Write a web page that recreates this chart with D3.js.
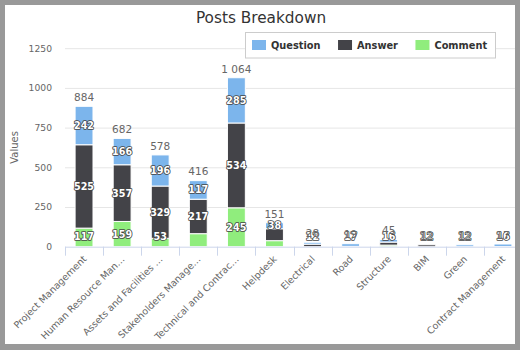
<!DOCTYPE html>
<html>
<head>
<meta charset="utf-8">
<script src="https://cdn.jsdelivr.net/npm/d3@7/dist/d3.min.js"></script>
<style>
  body { margin: 0; background: #fff; }
  svg { display: block; }
  text { font-family: "DejaVu Sans", sans-serif; }
</style>
</head>
<body>
<svg id="chart" width="520" height="350"></svg>
<script>
// Post counts per discussion group, split by post type
const categories = [
  "Project Management", "Human Resource Man\u2026", "Assets and Facilities \u2026",
  "Stakeholders Manage\u2026", "Technical and Contrac\u2026", "Helpdesk", "Electrical",
  "Road", "Structure", "BIM", "Green", "Contract Management"
];
const seriesNames = ["Question", "Answer", "Comment"];
const questionValues = [242, 166, 196, 117, 285, 38, 12, 17, 16, 0, 12, 16];
const answerValues   = [525, 357, 329, 217, 534, 75, 16, 0, 19, 12, 0, 0];
const commentValues  = [117, 159, 53, 82, 245, 38, 0, 2, 10, 0, 0, 1];
const yTicks = [0, 250, 500, 750, 1000, 1250];
// segment labels left out of the drawing: [category index, series name]
const suppressedLabels = [[3, "Comment"]];

const colors = { Question: "#7cb5ec", Answer: "#434348", Comment: "#90ed7d" };

const plot = { left: 65, right: 522, top: 48.2, bottom: 246.7 };
const svg = d3.select("#chart");

const rows = categories.map((c, i) => ({
  category: c,
  Question: questionValues[i],
  Answer: answerValues[i],
  Comment: commentValues[i]
}));

const x = d3.scaleBand().domain(categories).range([plot.left, plot.right]);
const y = d3.scaleLinear().domain([0, 1250]).range([plot.bottom, plot.top]);
const barWidth = x.bandwidth() * 0.47;

const fmt = d3.formatLocale({ decimal: ".", thousands: " ", grouping: [3], currency: ["", ""] }).format(",d");

// white background
svg.append("rect").attr("width", 520).attr("height", 350).attr("fill", "#fff");

// title
svg.append("text")
  .attr("x", 261).attr("y", 23)
  .attr("text-anchor", "middle")
  .attr("font-size", 15.3).attr("fill", "#333")
  .text("Posts Breakdown");

// horizontal grid lines
const grid = svg.append("g")
  .attr("transform", `translate(${plot.left},0)`)
  .call(d3.axisLeft(y).tickValues(yTicks.filter(t => t > 0)).tickSize(-(plot.right - plot.left)).tickFormat(""));
grid.select(".domain").remove();
grid.selectAll(".tick line").attr("stroke", "#e6e6e6");

// y axis labels
const yAxis = svg.append("g")
  .attr("transform", `translate(${plot.left},0)`)
  .call(d3.axisLeft(y).tickValues(yTicks).tickSize(0).tickPadding(13).tickFormat(d3.format("d")));
yAxis.select(".domain").remove();
yAxis.selectAll(".tick text")
  .attr("font-size", 9.2).attr("fill", "#666")
  .attr("font-family", "DejaVu Sans, sans-serif");

// y axis title
svg.append("text")
  .attr("transform", `translate(18,${(plot.top + plot.bottom) / 2}) rotate(-90)`)
  .attr("text-anchor", "middle")
  .attr("font-size", 10).attr("fill", "#666")
  .text("Values");

// stacked columns
const stack = d3.stack().keys(["Comment", "Answer", "Question"]);
const layers = stack(rows);

const barsG = svg.append("g");
layers.forEach(layer => {
  barsG.selectAll(null)
    .data(layer.filter(d => d[1] - d[0] > 0))
    .join("rect")
    .attr("x", d => x(d.data.category) + (x.bandwidth() - barWidth) / 2)
    .attr("y", d => y(d[1]))
    .attr("width", barWidth)
    .attr("height", d => y(d[0]) - y(d[1]))
    .attr("fill", colors[layer.key])
    .attr("stroke", "#fff")
    .attr("stroke-width", 1);
});

// x axis line, ticks between categories and rotated labels
svg.append("line")
  .attr("x1", plot.left).attr("x2", plot.right)
  .attr("y1", plot.bottom + 0.5).attr("y2", plot.bottom + 0.5)
  .attr("stroke", "#ccd6eb");
const boundaries = categories.map(c => x(c)).concat([plot.right]);
svg.append("g").selectAll("line")
  .data(boundaries)
  .join("line")
  .attr("x1", d => Math.round(d) + 0.5).attr("x2", d => Math.round(d) + 0.5)
  .attr("y1", plot.bottom).attr("y2", plot.bottom + 9)
  .attr("stroke", "#ccd6eb");

const xAxis = svg.append("g")
  .attr("transform", `translate(0,${plot.bottom})`)
  .call(d3.axisBottom(x).tickSize(0).tickPadding(0));
xAxis.select(".domain").remove();
xAxis.selectAll(".tick text")
  .attr("font-size", 9.5).attr("fill", "#666")
  .attr("font-family", "DejaVu Sans, sans-serif")
  .attr("text-anchor", "end")
  .attr("dy", 0)
  .attr("y", 0)
  .attr("transform", "translate(3,13) rotate(-45)");

// segment value labels
const labelG = svg.append("g");
const shownByCategory = categories.map(() => []);
["Question", "Answer", "Comment"].forEach(key => {
  const layer = layers.find(l => l.key === key);
  layer.forEach((d, i) => {
    const v = d[1] - d[0];
    if (v <= 0) return;
    if (suppressedLabels.some(s => s[0] === i && s[1] === key)) return;
    const cy = Math.min((y(d[0]) + y(d[1])) / 2, plot.bottom - 10);
    if (shownByCategory[i].some(o => Math.abs(o - cy) < 16)) return;
    shownByCategory[i].push(cy);
    labelG.append("text")
      .attr("x", x(d.data.category) + x.bandwidth() / 2)
      .attr("y", cy)
      .attr("dy", "0.36em")
      .attr("text-anchor", "middle")
      .attr("font-size", 9.6).attr("font-weight", "bold")
      .attr("fill", "#fff")
      .attr("stroke", "#444").attr("stroke-width", 1.6)
      .attr("stroke-linejoin", "round")
      .attr("paint-order", "stroke")
      .text(v);
  });
});

// stack totals
const totals = rows.map(r => r.Question + r.Answer + r.Comment);
svg.append("g").selectAll("text")
  .data(rows)
  .join("text")
  .attr("x", d => x(d.category) + x.bandwidth() / 2)
  .attr("y", (d, i) => y(totals[i]) - 9)
  .attr("dy", "0.36em")
  .attr("text-anchor", "middle")
  .attr("font-size", 10.5)
  .attr("fill", "#666")
  .text((d, i) => fmt(totals[i]));

// legend
const legend = svg.append("g");
legend.append("rect")
  .attr("x", 245.5).attr("y", 32.5).attr("width", 250).attr("height", 25.5)
  .attr("fill", "#fff").attr("stroke", "#ccc");
let lx = 252;
seriesNames.forEach(name => {
  legend.append("rect")
    .attr("x", lx).attr("y", 40).attr("width", 14).attr("height", 10)
    .attr("fill", colors[name]);
  const t = legend.append("text")
    .attr("x", lx + 19).attr("y", 49)
    .attr("font-size", 9.8).attr("font-weight", "bold").attr("fill", "#333")
    .text(name);
  lx += 19 + t.node().getComputedTextLength() + 17.5;
});

// grey frame
const frame = svg.append("g").attr("fill", "#999");
frame.append("rect").attr("x", 0).attr("y", 0).attr("width", 520).attr("height", 5);
frame.append("rect").attr("x", 0).attr("y", 344).attr("width", 520).attr("height", 6);
frame.append("rect").attr("x", 0).attr("y", 0).attr("width", 5).attr("height", 350);
frame.append("rect").attr("x", 515).attr("y", 0).attr("width", 5).attr("height", 350);
</script>
</body>
</html>
